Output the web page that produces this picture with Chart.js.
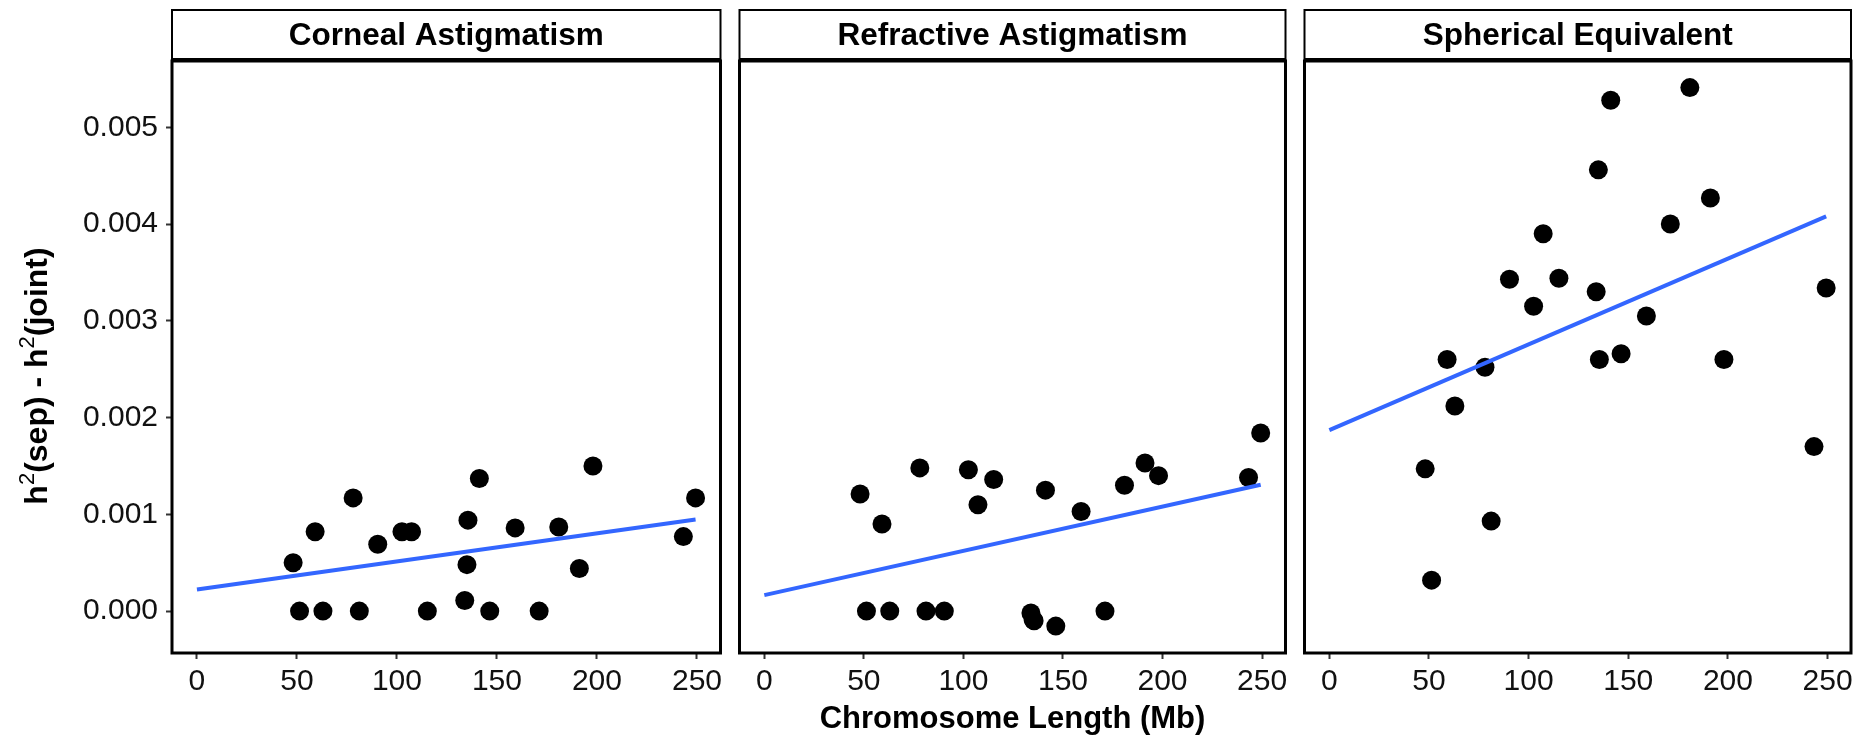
<!DOCTYPE html>
<html>
<head>
<meta charset="utf-8">
<script src="https://cdn.jsdelivr.net/npm/chart.js@4.4.0/dist/chart.umd.min.js"></script>
<style>
    body { margin: 0; background: #fff; width: 1872px; height: 739px; overflow: hidden; position: relative; }
    canvas { position: absolute; top: 0; }
</style>
</head>
<body>
<canvas id="panel-corneal" width="730" height="739" style="left:0px;width:730px;height:739px"></canvas>
<canvas id="panel-refractive" width="565" height="739" style="left:730px;width:565px;height:739px"></canvas>
<canvas id="panel-spherical" width="577" height="739" style="left:1295px;width:577px;height:739px"></canvas>
<script>
// chromosome 1..22 lengths (Mb)
const chromLength = [249.3, 243.2, 198.0, 191.2, 180.9, 171.1, 159.1, 146.4, 141.2, 135.5, 135.0,
    133.9, 115.2, 107.3, 102.5, 90.4, 81.2, 78.1, 59.1, 63.0, 48.1, 51.3];

const cornealDiff = [0.00117, 0.00077, 0.00150, 0.00044, 0.00087, 0.0, 0.00086, 0.0, 0.00137, 0.00094, 0.00048,
    0.00011, 0.0, 0.00082, 0.00082, 0.00069, 0.0, 0.00117, 0.00082, 0.0, 0.00050, 0.0];
const refractiveDiff = [0.00184, 0.00138, 0.00140, 0.00153, 0.00130, 0.0, 0.00103, -0.000155, 0.00125, -0.00010, -0.00009,
    -0.00002, 0.00136, 0.00110, 0.00146, 0.0, 0.0, 0.00148, 0.00090, 0.0, 0.00121, 0.0];
const sphericalDiff = [0.00334, 0.00170, 0.00260, 0.00427, 0.00541, 0.00400, 0.00305, 0.00266, 0.00528, 0.00260, 0.00456,
    0.00330, 0.00344, 0.00390, 0.00315, 0.00343, 0.00093, 0.00252, 0.00260, 0.00212, 0.00147, 0.00032];

// fitted line ends
const fitX = [0, 249.3];
const cornealFit = [0.000224, 0.000947];
const refractiveFit = [0.000165, 0.001306];
const sphericalFit = [0.00187, 0.00408];

const panelTitles = ['Corneal Astigmatism', 'Refractive Astigmatism', 'Spherical Equivalent'];
const xTicks = [0, 50, 100, 150, 200, 250];
const yTicks = [0.000, 0.001, 0.002, 0.003, 0.004, 0.005];
const xTitle = 'Chromosome Length (Mb)';

const xMin = -12.465, xMax = 261.765;
const yMin = -0.000433, yMax = 0.005685;

const FONT = '"Liberation Sans", Arial, sans-serif';

const panelFrame = {
    id: 'panelFrame',
    afterDraw(chart, args, opts) {
        const ctx = chart.ctx;
        const a = chart.chartArea;
        ctx.save();
        // strip on top
        ctx.fillStyle = '#fff';
        ctx.fillRect(a.left, 10, a.right - a.left, 49);
        ctx.strokeStyle = '#000';
        ctx.lineWidth = 2;
        ctx.strokeRect(a.left, 10, a.right - a.left, 49);
        ctx.fillStyle = '#000';
        ctx.font = 'bold 31.5px ' + FONT;
        ctx.textAlign = 'center';
        ctx.textBaseline = 'alphabetic';
        ctx.fillText(opts.title, (a.left + a.right) / 2, 45);
        // panel border
        ctx.lineWidth = 3;
        ctx.strokeRect(a.left, a.top, a.right - a.left, a.bottom - a.top);
        ctx.restore();
    }
};

// y title with superscripts: h²(sep) - h²(joint)
const yTitle = {
    id: 'yTitle',
    afterDraw(chart, args, opts) {
        if (!opts.show) return;
        const ctx = chart.ctx;
        const parts = [
            { t: 'h', sup: false }, { t: '2', sup: true }, { t: '(sep) - h', sup: false },
            { t: '2', sup: true }, { t: '(joint)', sup: false }
        ];
        const mainFont = 'bold 32px ' + FONT;
        const supFont = '22px ' + FONT;
        let total = 0;
        parts.forEach(p => {
            ctx.font = p.sup ? supFont : mainFont;
            p.w = ctx.measureText(p.t).width;
            total += p.w;
        });
        ctx.save();
        ctx.translate(47, 376);
        ctx.rotate(-Math.PI / 2);
        ctx.fillStyle = '#000';
        ctx.textBaseline = 'alphabetic';
        ctx.textAlign = 'left';
        let x = -total / 2;
        parts.forEach(p => {
            ctx.font = p.sup ? supFont : mainFont;
            ctx.fillText(p.t, x, p.sup ? -13 : 0);
            x += p.w;
        });
        ctx.restore();
    }
};

function makePanel(canvasId, title, values, fitY, showY, padding, showXTitle) {
    const ctx = document.getElementById(canvasId).getContext('2d');
    const points = chromLength.map((len, i) => ({ x: len, y: values[i] }));
    const fitLine = fitX.map((v, i) => ({ x: v, y: fitY[i] }));
    return new Chart(ctx, {
        type: 'scatter',
        data: {
            datasets: [
                {
                    data: fitLine,
                    showLine: true,
                    borderColor: '#3366FF',
                    borderWidth: 4,
                    pointRadius: 0,
                    fill: false
                },
                {
                    data: points,
                    backgroundColor: '#000',
                    borderColor: '#000',
                    borderWidth: 0,
                    pointRadius: 9.5,
                    pointHoverRadius: 9.5
                }
            ]
        },
        options: {
            responsive: false,
            animation: false,
            devicePixelRatio: 1,
            layout: { padding: padding },
            plugins: {
                legend: { display: false },
                tooltip: { enabled: false },
                panelFrame: { title: title },
                yTitle: { show: showY }
            },
            scales: {
                x: {
                    type: 'linear',
                    min: xMin,
                    max: xMax,
                    afterBuildTicks: (scale) => { scale.ticks = xTicks.map(v => ({ value: v })); },
                    afterFit: (scale) => { scale.height = 86; },
                    grid: { drawOnChartArea: false, drawTicks: true, tickLength: 6, tickWidth: 2, tickColor: '#333' },
                    border: { display: false },
                    ticks: {
                        font: { family: FONT, size: 30 },
                        color: '#111',
                        padding: 5,
                        maxRotation: 0,
                        callback: (v) => String(v)
                    },
                    title: {
                        display: showXTitle,
                        text: xTitle,
                        font: { family: FONT, size: 31, weight: 'bold' },
                        color: '#000',
                        padding: { top: 0, bottom: 1 }
                    }
                },
                y: {
                    type: 'linear',
                    display: showY,
                    min: yMin,
                    max: yMax,
                    afterBuildTicks: (scale) => { scale.ticks = yTicks.map(v => ({ value: v })); },
                    afterFit: (scale) => { if (showY) scale.width = 172; },
                    grid: { drawOnChartArea: false, drawTicks: true, tickLength: 6, tickWidth: 2, tickColor: '#333' },
                    border: { display: false },
                    ticks: {
                        font: { family: FONT, size: 30 },
                        color: '#111',
                        padding: 8,
                        callback: (v) => Number(v).toFixed(3)
                    }
                }
            }
        },
        plugins: [panelFrame, yTitle]
    });
}

makePanel('panel-corneal', panelTitles[0], cornealDiff, cornealFit, true,
    { left: 0, right: 9, top: 61, bottom: 0 }, false);
makePanel('panel-refractive', panelTitles[1], refractiveDiff, refractiveFit, false,
    { left: 8, right: 9, top: 61, bottom: 0 }, true);
makePanel('panel-spherical', panelTitles[2], sphericalDiff, sphericalFit, false,
    { left: 8, right: 21, top: 61, bottom: 0 }, false);
</script>
</body>
</html>
